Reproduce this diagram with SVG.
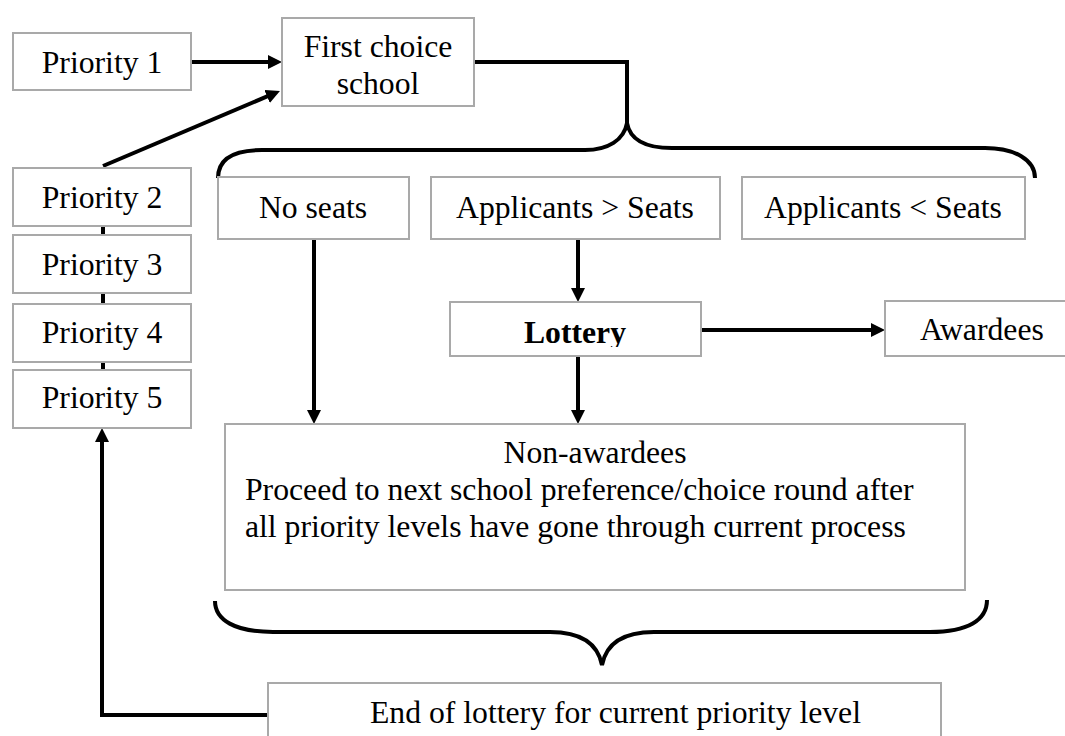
<svg xmlns="http://www.w3.org/2000/svg" width="1065" height="736" viewBox="0 0 1065 736">
<style>
.box{fill:#fff;stroke:#a9a9a9;stroke-width:2}
.c{text-anchor:middle}
.b{font-weight:bold}
.ln{fill:none;stroke:#000;stroke-width:4}
</style>
<defs>
<marker id="ah" markerUnits="userSpaceOnUse" markerWidth="16" markerHeight="16" refX="2" refY="7" orient="auto">
<path d="M0,0 L14,7 L0,14 z" fill="#000"/>
</marker>
<clipPath id="lotclip"><rect x="450" y="302" width="251" height="45"/></clipPath>
</defs>
<rect width="1065" height="736" fill="#fff"/>
<g id="connectors">
<line class="ln" x1="192" y1="62" x2="270" y2="62" marker-end="url(#ah)"/>
<line class="ln" x1="103" y1="166" x2="268.9" y2="95.7" marker-end="url(#ah)"/>
<path class="ln" d="M474,62 H627 V123"/>
<path class="ln" d="M218,178 C218,160 232,150 262,150 L585,150 C608,150 624,140 627,123 C630,140 646,148 672,148 L985,148 C1015,148 1035,160 1035,178"/>
<line class="ln" x1="103" y1="226" x2="103" y2="235"/>
<line class="ln" x1="103" y1="293" x2="103" y2="304"/>
<line class="ln" x1="103" y1="362" x2="103" y2="370"/>
<line class="ln" x1="314" y1="239" x2="314" y2="412" marker-end="url(#ah)"/>
<line class="ln" x1="578" y1="239" x2="578" y2="290" marker-end="url(#ah)"/>
<line class="ln" x1="578" y1="356" x2="578" y2="412" marker-end="url(#ah)"/>
<line class="ln" x1="701" y1="330" x2="873" y2="330" marker-end="url(#ah)"/>
<path class="ln" d="M215,601 C215,620 235,632 273,632 L550,632 C582,632 598,645 602,665 C606,645 622,632 654,632 L930,632 C968,632 987,620 987,600"/>
<path class="ln" d="M268,715 H102 V440" marker-end="url(#ah)"/>
</g>
<g font-family="Liberation Serif, serif" font-size="31.7" fill="#000">
<g id="priority1"><rect class="box" x="13" y="33" width="178" height="57"/><text class="c" x="102" y="73">Priority 1</text></g>
<g id="firstchoice"><rect class="box" x="282" y="18" width="192" height="88"/><text class="c" x="378" y="57">First choice</text><text class="c" x="378" y="94">school</text></g>
<g id="priority2"><rect class="box" x="13" y="168" width="178" height="58"/><text class="c" x="102" y="208">Priority 2</text></g>
<g id="priority3"><rect class="box" x="13" y="235" width="178" height="58"/><text class="c" x="102" y="275">Priority 3</text></g>
<g id="priority4"><rect class="box" x="13" y="304" width="178" height="58"/><text class="c" x="102" y="343">Priority 4</text></g>
<g id="priority5"><rect class="box" x="13" y="370" width="178" height="58"/><text class="c" x="102" y="408">Priority 5</text></g>
<g id="noseats"><rect class="box" x="218" y="177" width="191" height="62"/><text class="c" x="313" y="218">No seats</text></g>
<g id="appgt"><rect class="box" x="431" y="177" width="289" height="62"/><text class="c" x="575" y="218">Applicants &gt; Seats</text></g>
<g id="applt"><rect class="box" x="742" y="177" width="283" height="62"/><text class="c" x="883" y="218">Applicants &lt; Seats</text></g>
<g id="lottery"><rect class="box" x="450" y="302" width="251" height="54"/><text class="c b" x="575" y="343" clip-path="url(#lotclip)">Lottery</text></g>
<g id="awardees"><rect class="box" x="885" y="301" width="200" height="55"/><text x="920" y="340">Awardees</text></g>
<g id="nonawardees"><rect class="box" x="225" y="424" width="740" height="166"/>
<text class="c" x="595" y="463">Non-awardees</text>
<text x="245" y="500">Proceed to next school preference/choice round after</text>
<text x="245" y="537">all priority levels have gone through current process</text></g>
<g id="endlottery"><rect class="box" x="268" y="683" width="673" height="70"/><text x="370" y="723">End of lottery for current priority level</text></g>
</g>
</svg>
